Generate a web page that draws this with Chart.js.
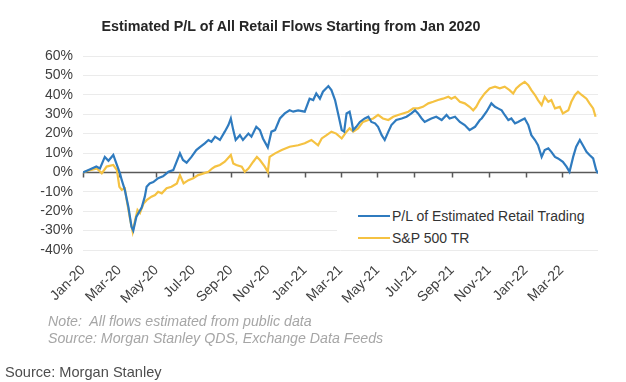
<!DOCTYPE html>
<html>
<head>
<meta charset="utf-8">
<script src="https://cdn.jsdelivr.net/npm/chart.js@4.4.0/dist/chart.umd.min.js"></script>
<style>
  html,body{margin:0;padding:0;background:#fff;}
  #wrap{position:relative;width:626px;height:382px;overflow:hidden;font-family:"Liberation Sans",Arial,sans-serif;}
  #c{position:absolute;left:0;top:0;}
  .title{position:absolute;left:0;top:18px;width:582px;text-align:center;font-weight:bold;font-size:14.3px;line-height:16px;color:#262626;}
  .legend{position:absolute;left:337px;top:203px;width:261px;height:46px;background:#fff;}
  .row{position:absolute;left:21px;height:18px;line-height:18px;font-size:14px;color:#333;white-space:nowrap;}
  .row i{display:inline-block;width:32px;height:2px;vertical-align:middle;margin-right:2px;position:relative;top:-1px;}
  .note{position:absolute;left:48px;font-size:14.2px;font-style:italic;color:#a6a6a6;white-space:pre;line-height:17px;}
  .src{position:absolute;left:5px;top:363px;font-size:14.6px;color:#4d4d4d;line-height:18px;}
</style>
</head>
<body>
<div id="wrap">
  <canvas id="c" width="626" height="382"></canvas>
  <div class="title">Estimated P/L of All Retail Flows Starting from Jan 2020</div>
  <div class="legend">
    <div class="row" style="top:4px"><i style="background:#2f7bbf"></i>P/L of Estimated Retail Trading</div>
    <div class="row" style="top:26px"><i style="background:#f5c242"></i>S&amp;P 500 TR</div>
  </div>
  <div class="note" style="top:313px">Note:  All flows estimated from public data</div>
  <div class="note" style="top:330px">Source: Morgan Stanley QDS, Exchange Data Feeds</div>
  <div class="src">Source: Morgan Stanley</div>
</div>
<script>
// Days since 2020-01-01
const tickLabels = ['Jan-20','Mar-20','May-20','Jul-20','Sep-20','Nov-20','Jan-21','Mar-21','May-21','Jul-21','Sep-21','Nov-21','Jan-22','Mar-22'];
const tickDays   = [0,60,121,182,244,305,366,425,486,547,609,670,731,790];

const retailDays = [0,11,22,28,36,42,50,55,61,64,69,75,80,83,88,97,102,105,110,116,124,132,141,149,160,165,171,179,187,193,201,207,212,
  218,226,234,240,244,248,252,259,264,273,278,286,292,297,305,311,317,325,333,341,347,355,366,374,380,385,391,396,405,410,416,421,427,431,435,
  440,443,446,451,457,465,471,476,482,487,493,498,504,509,517,526,534,542,548,553,559,564,570,575,583,592,600,605,614,622,630,638,647,655,
  658,666,674,680,685,691,696,702,707,713,718,724,729,735,740,746,751,757,762,768,773,779,784,792,798,803,809,814,820,825,831,836,842,847,850];
const retailPL = [0,1.5,3,2,8,6,9,4.6,-0.5,-4,-9,-18,-28,-30,-23,-18,-12.5,-7.4,-5.7,-5,-3,-2,0.3,1.2,9.8,6.4,5,8,11.5,13,15,16.7,15.8,
  18.4,16.7,21,24.4,27.8,21.8,16.7,19.2,16.7,20,18.4,23.5,21.8,17.5,12.9,21,21.8,27.8,30.4,32,31.3,32,31.3,38,37.3,40.7,38,41.6,44.5,42.4,37.3,30.4,21.8,21,30.4,
  31.3,27,21.8,23.5,26,27.8,28.7,26,25.3,23.5,19.2,16.7,21,24.4,27,27.8,28.7,30.4,32,30.4,27.8,26,27,27.8,28.7,27,29.6,27.8,28.7,26,24.4,21.8,23.5,27,
  27.8,31.3,35.6,33.8,33,32,29.6,27,27.8,25.3,26,27,27.8,24.4,19.2,16.7,14,8,11.5,12.4,10.6,8,7.2,5.5,3,0.3,8,13.2,16.7,14,10.6,9,7.2,1.2,-0.5];

const spxDays = [0,12,23,31,39,50,56,60,64,69,72,78,82,86,90,94,100,105,113,119,124,130,138,146,155,160,166,174,182,190,199,207,213,
  218,226,234,244,248,253,262,267,273,281,287,292,300,305,308,317,328,341,355,366,377,388,394,402,410,418,427,435,
  440,446,454,462,471,479,487,495,504,512,520,528,537,545,553,561,570,578,586,594,603,608,614,622,630,638,644,649,655,
  663,671,680,688,696,704,710,715,721,729,735,740,746,751,757,762,768,773,779,787,792,801,806,812,817,823,831,836,842,846];
const spxTR = [0,1.2,2,-0.5,3,3.8,1.2,-7.4,-9,-8.2,-14,-24.6,-30.6,-24.6,-19.4,-21,-16,-14.3,-12.5,-11.7,-10,-10.8,-8.2,-7.4,-5.7,-1.4,-5.7,-4,-3,-1.4,-0.5,0.3,2,
  3,3.8,5.5,9,4.6,3.8,3,0.3,2,5.5,8,6.4,3,0.3,8,9.8,11.5,13.2,14,15,16.7,14,17.5,19.2,21,20,17.5,21,
  22.7,21,22.7,26,27,27.8,29.6,27.8,27,28.7,29.6,30.4,31.3,33,33,33.8,35.6,36.4,37.3,38,39,38,39,36.4,35.6,33.8,32,33.8,37.3,
  40.7,43.3,44.2,43.3,44.2,42.4,40.7,43.3,45,46.7,45,42.4,39.9,37.3,34.7,39,36.4,37.3,33,33.8,30.4,32,36.4,39.9,41.6,39.9,38,35.6,33,28.7];

const yMin = -40, yMax = 60, yStep = 10, xMax = 850;

const pts = (xs, ys) => xs.map((d, i) => ({x: d, y: ys[i]}));

const zeroAxis = {
  id: 'zeroAxis',
  beforeDatasetsDraw(chart) {
    const {ctx, scales: {x, y}} = chart;
    const y0 = Math.round(y.getPixelForValue(0)) + 0.5;
    ctx.save();
    ctx.strokeStyle = '#595959';
    ctx.lineWidth = 1.5;
    ctx.beginPath();
    ctx.moveTo(x.left, y0);
    ctx.lineTo(x.right, y0);
    tickDays.forEach(d => {
      const px = Math.round(x.getPixelForValue(d)) + 0.5;
      ctx.moveTo(px, y0);
      ctx.lineTo(px, y0 + 5);
    });
    ctx.stroke();
    ctx.restore();
  }
};

const font = {family: '"Liberation Sans", Arial, sans-serif', size: 14};

new Chart(document.getElementById('c'), {
  type: 'line',
  data: {
    datasets: [
      {label: 'S&P 500 TR', data: pts(spxDays, spxTR), borderColor: '#f5c242', borderWidth: 2.2, pointRadius: 0, tension: 0, order: 2},
      {label: 'P/L of Estimated Retail Trading', data: pts(retailDays, retailPL), borderColor: '#2f7bbf', borderWidth: 2.2, pointRadius: 0, tension: 0, order: 1}
    ]
  },
  options: {
    responsive: false,
    animation: false,
    layout: {padding: {top: 56, right: 28, left: 0, bottom: 0}},
    plugins: {legend: {display: false}, title: {display: false}, tooltip: {enabled: false}},
    scales: {
      x: {
        type: 'linear', min: 0, max: xMax,
        afterBuildTicks: s => { s.ticks = tickDays.map(v => ({value: v})); },
        afterFit: s => { s.height = 132; },
        grid: {display: false},
        border: {display: false},
        ticks: {
          autoSkip: false, minRotation: 45, maxRotation: 45, padding: 4,
          color: '#404040', font: font,
          callback: (v, i) => tickLabels[i]
        }
      },
      y: {
        min: yMin, max: yMax,
        afterFit: s => { s.width = 83; },
        border: {display: false},
        grid: {color: '#ebebeb', lineWidth: 1, drawTicks: false},
        ticks: {stepSize: yStep, autoSkip: false, padding: 10, color: '#404040', font: font, callback: v => v + '%'}
      }
    }
  },
  plugins: [zeroAxis]
});
</script>
</body>
</html>
